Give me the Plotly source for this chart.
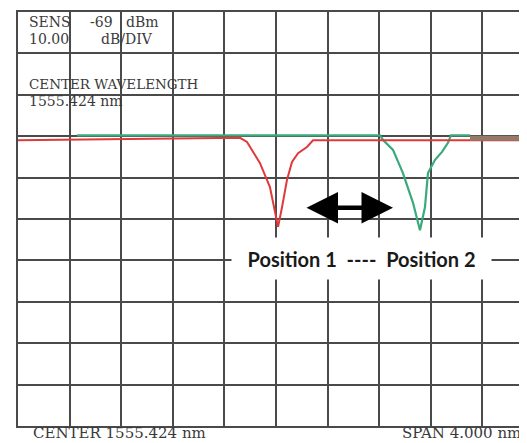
import plotly.graph_objects as go

# OSA screen: center 1555.424 nm, span 4.000 nm, 10 dB/div
CENTER = 1555.424
SPAN = 4.0

# trace A (red) - position 1
red_wl = [1553.424, 1555.145, 1555.199, 1555.300, 1555.377, 1555.416, 1555.440,
          1555.471, 1555.509, 1555.548, 1555.595, 1555.664, 1555.711, 1557.430]
red_db = [-31.0, -30.4, -31.4, -36.5, -42.3, -47.8, -51.9,
          -47.1, -40.6, -36.2, -34.1, -32.6, -31.0, -31.0]

# trace B (green) - position 2
green_wl = [1553.881, 1556.230, 1556.254, 1556.331, 1556.408, 1556.486, 1556.540,
            1556.579, 1556.602, 1556.657, 1556.711, 1556.757, 1556.780, 1556.928]
green_db = [-29.8, -29.8, -30.9, -33.3, -38.9, -46.1, -52.7,
            -47.1, -38.9, -35.7, -33.8, -31.6, -29.8, -29.8]

# overlap of both traces at the right edge
over_wl = [1556.928, 1557.430]
over_db = [-30.5, -30.5]

# page body has an 8px margin, so the figure starts at (8, 8)
W, H = 519, 435
L, R, T, B = 10, 0, 4, 17
div_px = 51.6
x_end = CENTER - SPAN / 2 + (W - L - R) / div_px * SPAN / 10


def px(x):  # page pixel -> paper
    return (x - 18) / (W - L - R)


def py(y):
    return (426 - y) / (H - T - B)


fig = go.Figure()
fig.add_trace(go.Scatter(x=green_wl, y=green_db, mode='lines',
                         line=dict(color='#3aaa7c', width=2.2)))
fig.add_trace(go.Scatter(x=red_wl, y=red_db, mode='lines',
                         line=dict(color='#e0393a', width=2)))
fig.add_trace(go.Scatter(x=over_wl, y=over_db, mode='lines',
                         line=dict(color='#957a6a', width=5)))

txt = dict(family='DejaVu Serif', size=14, color='#3a3a3a')
ann = [
    ('SENS', 27, 22, 'left', 14), ('-69', 115, 22, 'right', 14),
    ('dBm', 124, 22, 'left', 14),
    ('10.00', 27, 39, 'left', 14), ('dB/DIV', 99, 39, 'left', 14),
    ('CENTER WAVELENGTH', 27, 84, 'left', 13.5), ('1555.424 nm', 27, 101, 'left', 14),
    ('CENTER 1555.424 nm', 31, 433, 'left', 15),
    ('SPAN 4.000 nm', 523, 433, 'right', 15),
]
for t, x, y, a, s in ann:
    fig.add_annotation(text=t, x=px(x), y=py(y), xref='paper', yref='paper',
                       xanchor=a, yanchor='middle', showarrow=False,
                       font=dict(txt, size=s))

fig.add_annotation(text='<b>Position 1&nbsp; ---- &nbsp;Position 2</b>',
                   x=px(361), y=py(258), xref='paper', yref='paper',
                   xanchor='center', yanchor='middle',
                   width=257, height=39, bgcolor='white', showarrow=False,
                   font=dict(family='Lato', size=20, color='#1a1a1a'))

# double-headed arrow between the two positions
fig.add_annotation(x=1556.331, y=-47.3, ax=1555.649, ay=-47.3,
                   xref='x', yref='y', axref='x', ayref='y', text='',
                   showarrow=True, arrowhead=2, startarrowhead=2,
                   arrowside='end+start', arrowwidth=4.5, arrowsize=1.4,
                   startarrowsize=1.4, arrowcolor='black')

fig.update_xaxes(range=[CENTER - SPAN / 2, x_end], tick0=CENTER - SPAN / 2,
                 dtick=SPAN / 10, showgrid=True, gridcolor='#4a4a4a', gridwidth=2,
                 showticklabels=False, ticks='', zeroline=False,
                 showline=True, mirror=True, linecolor='#4a4a4a', linewidth=2)
fig.update_yaxes(range=[-100, 0], tick0=0, dtick=10, showgrid=True,
                 gridcolor='#4a4a4a', gridwidth=2, showticklabels=False,
                 ticks='', zeroline=False, showline=True, mirror=False,
                 linecolor='#4a4a4a', linewidth=2)
fig.update_layout(width=W, height=H, margin=dict(l=L, r=R, t=T, b=B),
                  plot_bgcolor='white', paper_bgcolor='white', showlegend=False)

fig.write_html("out.html")
